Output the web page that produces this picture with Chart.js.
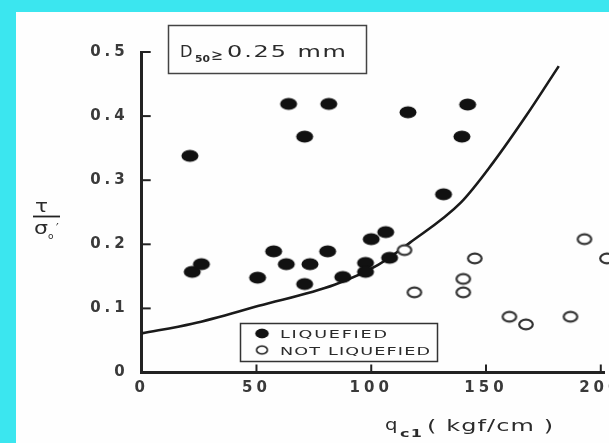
<!DOCTYPE html>
<html>
<head>
<meta charset="utf-8">
<script src="https://cdn.jsdelivr.net/npm/chart.js@4.4.1/dist/chart.umd.min.js"></script>
<style>
    html, body { margin: 0; padding: 0; }
    body { width: 609px; height: 443px; background: #3be6ef; position: relative; overflow: hidden; }
    #paper { position: absolute; left: 16px; top: 12px; right: 0; bottom: 0; background: #fefefe; }
    #wrap { position: absolute; left: 0; top: 0; width: 609px; height: 443px; }
</style>
</head>
<body>
<div id="paper"></div>
<div id="wrap"><canvas id="chart" width="609" height="443"></canvas></div>
<script>
// liquefied sites (filled dots)
const liquefiedX = [21, 64, 81.5, 71, 116, 142, 139.5, 131.5, 22, 26, 50.5, 57.5, 63, 71, 73.3, 81, 87.6, 97.5, 97.5, 100, 106.3, 108];
const liquefiedY = [0.338, 0.419, 0.419, 0.368, 0.406, 0.418, 0.368, 0.278, 0.157, 0.169, 0.148, 0.189, 0.169, 0.138, 0.169, 0.189, 0.149, 0.171, 0.157, 0.208, 0.219, 0.179];

// not liquefied sites (open circles)
const notLiquefiedX = [114.5, 118.8, 145.1, 140.1, 140.1, 160.2, 167.4, 186.8, 192.9, 202.7];
const notLiquefiedY = [0.191, 0.125, 0.178, 0.146, 0.125, 0.087, 0.075, 0.087, 0.208, 0.178];

// boundary curve
const curveX = [0, 22, 51, 84, 103, 117, 139, 153, 167.4, 181.7];
const curveY = [0.061, 0.076, 0.104, 0.137, 0.168, 0.203, 0.265, 0.327, 0.4, 0.478];

const xTicks = [0, 50, 100, 150, 200];
const yTicks = [0, 0.1, 0.2, 0.3, 0.4, 0.5];
const yTickLabels = ['0', '0.1', '0.2', '0.3', '0.4', '0.5'];

const ink = '#222';
const FONT = 'DejaVu Sans';

const toPoints = (xs, ys) => xs.map((x, i) => ({ x: x, y: ys[i] }));

// marks in the scan are slightly stretched sideways, so draw ellipses
const makeDot = (filled) => {
    const c = document.createElement('canvas');
    c.width = 20;
    c.height = 15;
    const g = c.getContext('2d');
    g.beginPath();
    if (filled) {
        g.ellipse(10, 7.5, 8.5, 6.1, 0, 0, Math.PI * 2);
        g.fillStyle = '#111';
        g.fill();
    } else {
        g.ellipse(10, 7.5, 6.8, 4.8, 0, 0, Math.PI * 2);
        g.fillStyle = '#fff';
        g.fill();
        g.lineWidth = 2.2;
        g.strokeStyle = '#333';
        g.stroke();
    }
    return c;
};
const filledDot = makeDot(true);
const openDot = makeDot(false);

// text widened to a given width: mostly stretch, the rest as spacing
const fitText = (ctx, text, x, y, width, stretch = 1.6) => {
    ctx.letterSpacing = '0px';
    const natural = ctx.measureText(text).width;
    const sx = Math.min(stretch, width / natural);
    const gap = text.length > 1 ? (width / sx - natural) / (text.length - 1) : 0;
    ctx.save();
    ctx.translate(x, y);
    ctx.scale(sx, 1);
    ctx.letterSpacing = gap + 'px';
    ctx.fillText(text, 0, 0);
    ctx.restore();
};

const decorations = {
    id: 'decorations',
    beforeDraw(chart) {
        chart.ctx.letterSpacing = '4px';
    },
    afterDraw(chart) {
        const ctx = chart.ctx;
        const xs = chart.scales.x;
        const ys = chart.scales.y;
        const area = chart.chartArea;
        ctx.save();
        ctx.letterSpacing = '0px';

        // inward tick marks
        ctx.strokeStyle = ink;
        ctx.lineWidth = 2;
        ys.ticks.forEach(t => {
            if (t.value === 0) return;
            const py = ys.getPixelForValue(t.value);
            ctx.beginPath();
            ctx.moveTo(area.left, py);
            ctx.lineTo(area.left + 9, py);
            ctx.stroke();
        });
        xs.ticks.forEach(t => {
            if (t.value === 0) return;
            const px = xs.getPixelForValue(t.value);
            ctx.beginPath();
            ctx.moveTo(px, area.bottom);
            ctx.lineTo(px, area.bottom - 8);
            ctx.stroke();
        });

        ctx.fillStyle = '#2b2b2b';
        ctx.textBaseline = 'alphabetic';
        ctx.textAlign = 'left';

        // D50 box
        ctx.strokeStyle = '#444';
        ctx.lineWidth = 1.5;
        ctx.strokeRect(168.5, 25.5, 198, 48);
        ctx.font = '15px ' + FONT;
        fitText(ctx, 'D', 180, 57, 12.5);
        ctx.font = 'bold 9px ' + FONT;
        fitText(ctx, '50', 195, 62, 15);
        ctx.font = '15px ' + FONT;
        fitText(ctx, '\u2265', 211, 60, 12);
        fitText(ctx, '0.25 mm', 227, 57, 119);

        // legend box
        ctx.strokeStyle = '#333';
        ctx.strokeRect(240.5, 323.5, 197, 38);
        ctx.drawImage(filledDot, 254, 327.5, 16, 12);
        ctx.drawImage(openDot, 254, 344, 16, 12);
        ctx.font = '11px ' + FONT;
        fitText(ctx, 'LIQUEFIED', 280, 338, 107);
        fitText(ctx, 'NOT LIQUEFIED', 280, 355, 150);

        // x title
        ctx.font = '15px ' + FONT;
        fitText(ctx, 'q', 385, 430, 12.5);
        ctx.font = 'bold 10px ' + FONT;
        fitText(ctx, 'c1', 400, 437, 22);
        ctx.font = '15px ' + FONT;
        fitText(ctx, '( kgf/cm )', 427, 431, 126);

        // y title, tau over sigma'o
        ctx.font = '17px ' + FONT;
        fitText(ctx, '\u03c4', 35, 212, 13);
        ctx.strokeStyle = ink;
        ctx.lineWidth = 1.8;
        ctx.beginPath();
        ctx.moveTo(33, 216.5);
        ctx.lineTo(60, 216.5);
        ctx.stroke();
        fitText(ctx, '\u03c3', 34, 234, 14);
        ctx.font = '9px ' + FONT;
        ctx.fillText('o', 48, 239);
        ctx.font = '12px ' + FONT;
        ctx.fillText('\u2032', 56, 232);

        ctx.restore();
    }
};

new Chart(document.getElementById('chart'), {
    type: 'scatter',
    data: {
        datasets: [
            {
                label: 'LIQUEFIED',
                data: toPoints(liquefiedX, liquefiedY),
                pointStyle: filledDot,
                clip: false
            },
            {
                label: 'NOT LIQUEFIED',
                data: toPoints(notLiquefiedX, notLiquefiedY),
                pointStyle: openDot,
                clip: false
            },
            {
                label: 'boundary',
                data: toPoints(curveX, curveY),
                showLine: true,
                pointRadius: 0,
                borderColor: '#1a1a1a',
                borderWidth: 2.6,
                cubicInterpolationMode: 'monotone',
                fill: false
            }
        ]
    },
    options: {
        responsive: false,
        animation: false,
        events: [],
        layout: { padding: { top: 52, right: 0, bottom: 0, left: 0 } },
        plugins: {
            legend: { display: false },
            tooltip: { enabled: false }
        },
        scales: {
            x: {
                type: 'linear',
                min: 0,
                max: 201.4,
                afterBuildTicks: s => { s.ticks = xTicks.map(v => ({ value: v })); },
                afterFit: s => {
                    s.height = 70.5;
                    s.paddingLeft = 0; s.paddingRight = 0;
                },
                grid: { display: false, drawTicks: false },
                border: { display: true, color: ink, width: 3 },
                ticks: {
                    autoSkip: false,
                    maxRotation: 0,
                    padding: 7,
                    color: '#3a3a3a',
                    font: { family: FONT, size: 15, weight: 'bold' }
                }
            },
            y: {
                type: 'linear',
                min: 0,
                max: 0.5,
                afterBuildTicks: s => { s.ticks = yTicks.map(v => ({ value: v })); },
                afterFit: s => {
                    s.width = 141.7;
                    s.paddingTop = 0; s.paddingBottom = 0;
                },
                grid: { display: false, drawTicks: false },
                border: { display: true, color: ink, width: 3 },
                ticks: {
                    padding: 13,
                    color: '#3a3a3a',
                    font: { family: FONT, size: 15, weight: 'bold' },
                    callback: (v, i) => yTickLabels[i]
                }
            }
        }
    },
    plugins: [decorations]
});
</script>
</body>
</html>
